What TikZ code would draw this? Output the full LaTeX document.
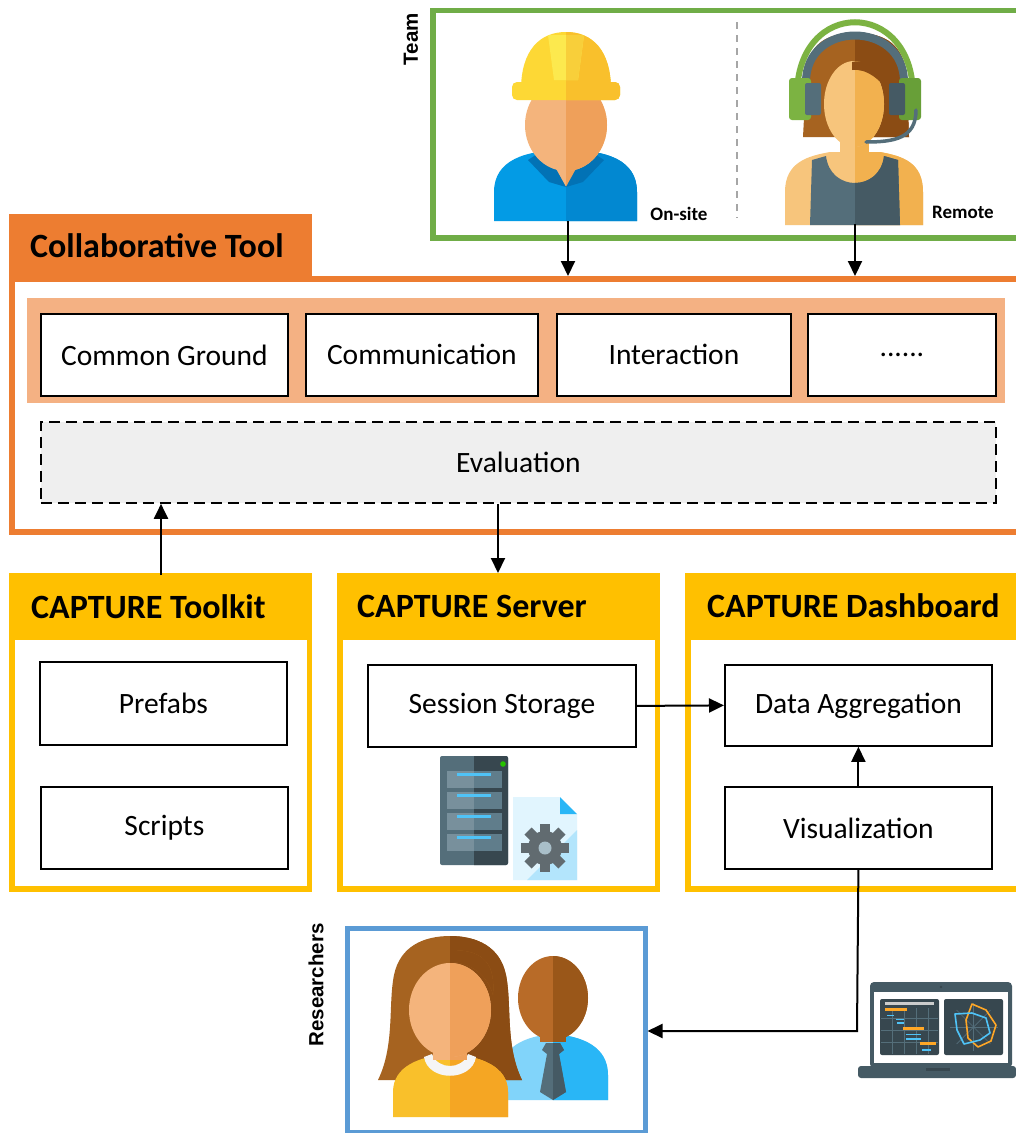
\documentclass[tikz,border=0pt]{standalone}
\usepackage{fontspec}
\setmainfont{Carlito}
\newfontfamily\arialfont{Liberation Sans}
\usetikzlibrary{arrows.meta}

\definecolor{ctorange}{HTML}{ED7D31}
\definecolor{ctlight}{HTML}{F4B183}
\definecolor{capgold}{HTML}{FFC000}
\definecolor{teamgreen}{HTML}{70AD47}
\definecolor{resblue}{HTML}{5B9BD5}
\definecolor{evalgray}{HTML}{EFEFEF}
% icon palette
\definecolor{skinL}{HTML}{F4B47C}
\definecolor{skinR}{HTML}{EFA05A}
\definecolor{skinYL}{HTML}{F7C57C}
\definecolor{skinYR}{HTML}{F2B14F}
\definecolor{hatL}{HTML}{FDD835}
\definecolor{hatR}{HTML}{F9C02C}
\definecolor{hatRidgeL}{HTML}{FCE94E}
\definecolor{hatRidgeR}{HTML}{F8CF3A}
\definecolor{shirtL}{HTML}{039BE5}
\definecolor{shirtR}{HTML}{0288D1}
\definecolor{collar}{HTML}{0272B5}
\definecolor{hairL}{HTML}{A66320}
\definecolor{hairR}{HTML}{8B4C14}
\definecolor{slateL}{HTML}{546E7A}
\definecolor{slateR}{HTML}{455A64}
\definecolor{slateD}{HTML}{37474F}
\definecolor{headgreen}{HTML}{7CB342}
\definecolor{headgreenD}{HTML}{689F38}
\definecolor{manL}{HTML}{B86B28}
\definecolor{manR}{HTML}{9A5719}
\definecolor{lblueL}{HTML}{81D4FA}
\definecolor{lblueR}{HTML}{29B6F6}
\definecolor{topL}{HTML}{F9C02B}
\definecolor{topR}{HTML}{F5A623}
\definecolor{slotL}{HTML}{78909C}
\definecolor{slotR}{HTML}{607D8B}
\definecolor{ledblue}{HTML}{4FC3F7}
\definecolor{docL}{HTML}{E1F5FE}
\definecolor{docR}{HTML}{B3E5FC}
\definecolor{gearc}{HTML}{616B70}
\definecolor{barorange}{HTML}{FFA726}

% fill a path in two tones, split vertically at x = #1
\newcommand\twotonefill[4]{%
  \fill[#2] #4;
  \begin{scope}
    \clip (#1,-20) rectangle (1100,1200);
    \fill[#3] #4;
  \end{scope}}

\begin{document}
\begin{tikzpicture}[x=1pt,y=-1pt,
  cbox/.style={draw=black, line width=1.8, fill=white, inner sep=0,
    anchor=north west, font=\fontsize{29.5}{32}\selectfont},
  ttl/.style={inner sep=0, anchor=west, font=\bfseries\fontsize{34}{36}\selectfont},
  sidelbl/.style={inner sep=0, rotate=90, font=\arialfont\bfseries\fontsize{20.5}{22}\selectfont},
  rolelbl/.style={inner sep=0, font=\bfseries\fontsize{19}{20}\selectfont},
  arr/.style={line width=2, -{Triangle[length=15pt,width=14pt]}}]

\useasboundingbox (0,0) rectangle (1016,1133);
\clip (0,0) rectangle (1016,1133);
\fill[white] (0,0) rectangle (1016,1133);

% ---------------- Team ----------------
\draw[teamgreen, line width=5.5] (1030,10.5) -- (433,10.5) -- (433,238) -- (1030,238);
\draw[gray!70, line width=1.5, dash pattern=on 7pt off 6pt] (737,22) -- (737,218);
\node[sidelbl] (teamlbl) at (411,39) {Team};

% on-site worker
\twotonefill{566}{shirtL}{shirtR}{(494,221) -- (494,192) .. controls (494,160) and (525,150) .. (566,150) .. controls (607,150) and (637,160) .. (637,192) -- (637,221) -- cycle}
\twotonefill{566}{skinL}{skinR}{(545,140) -- (587,140) -- (587,160) -- (566,187) -- (545,160) -- cycle}
\fill[collar] (528,160) -- (545,149) -- (566,187) -- (549,182) -- cycle;
\fill[collar] (604,160) -- (587,149) -- (566,187) -- (583,182) -- cycle;
\twotonefill{566}{skinL}{skinR}{(566,125) ellipse (41 and 46)}
\twotonefill{566}{hatL}{hatR}{(521,90) .. controls (521,50) and (540,32) .. (566,32) .. controls (592,32) and (611,50) .. (611,90) -- cycle}
\twotonefill{566}{hatL}{hatR}{[rounded corners=5] (512,82) rectangle (620,100)}
\twotonefill{566}{hatRidgeL}{hatRidgeR}{(548,35) -- (584,35) -- (578,80) -- (554,80) -- cycle}
\node[rolelbl] (onsitelbl) at (679,214) {On-site};
\coordinate (onsite) at (568,221);

% remote worker with headset
\twotonefill{855}{hairL}{hairR}{(803,137) -- (806,80) .. controls (806,42) and (828,33) .. (856,33) .. controls (886,33) and (905,45) .. (907,80) -- (909,137) -- cycle}
\twotonefill{855}{skinYL}{skinYR}{(785,225) -- (785,192) .. controls (785,162) and (808,156) .. (830,152) -- (880,152) .. controls (902,156) and (923,162) .. (923,192) -- (923,225) -- cycle}
\twotonefill{855}{skinYL}{skinYR}{(840,135) rectangle (869,165)}
\twotonefill{855}{slateL}{slateR}{(810,225) -- (812,160) -- (826,156) .. controls (830,192) and (880,192) .. (884,156) -- (898,160) -- (900,225) -- cycle}
\twotonefill{855}{skinYL}{skinYR}{(854,104) ellipse (30 and 43)}
\fill[hairR] (852,62) .. controls (870,58) and (885,70) .. (890,95) .. controls (882,80) and (866,68) .. (852,70) -- cycle;
\draw[slateL, line width=8] (806,82) .. controls (806,20) and (904,20) .. (904,82);
\draw[headgreen, line width=6] (797,95) .. controls (797,-2) and (913,-2) .. (913,95);
\fill[headgreen, rounded corners=3] (789,78) rectangle (811,120);
\fill[slateL, rounded corners=2] (805,83) rectangle (821,115);
\fill[headgreenD, rounded corners=3] (899,78) rectangle (921,120);
\fill[slateR, rounded corners=2] (889,83) rectangle (905,115);
\draw[slateL, line width=3.5, line cap=round] (916,110) .. controls (916,138) and (895,142) .. (866,142);
\coordinate (remote) at (855,224);
\node[rolelbl] (remotelbl) at (963,212) {Remote};

% ---------------- Collaborative Tool ----------------
\fill[ctorange] (9,214) rectangle (312,281);
\draw[ctorange, line width=6] (1030,278.5) -- (12,278.5) -- (12,532) -- (1030,532);
\node[ttl] (cttitle) at (30,246) {Collaborative Tool};
\fill[ctlight] (27,298) rectangle (1005,403);
\node[cbox, minimum width=247, minimum height=82] (common) at (40,313) {Common Ground};
\node[cbox, minimum width=232, minimum height=82] (comm) at (305,313) {Communication};
\node[cbox, minimum width=234, minimum height=82] (inter) at (556,313) {Interaction};
\node[cbox, minimum width=188, minimum height=82] (more) at (807,313) {......};
\node[cbox, fill=evalgray, dash pattern=on 11pt off 6pt, minimum width=955, minimum height=81] (eval) at (40,421) {Evaluation};

\coordinate (ctop1) at (568,276);
\coordinate (ctop2) at (855,276);
\draw[arr] (onsite) -- (ctop1);
\draw[arr] (remote) -- (ctop2);

% ---------------- CAPTURE Toolkit ----------------
\fill[capgold] (9,573) rectangle (312,640);
\draw[capgold, line width=5.5] (12,576) rectangle (309.5,889);
\node[ttl] (tktitle) at (31,607) {CAPTURE Toolkit};
\node[cbox, minimum width=247, minimum height=83] (prefabs) at (39,661) {Prefabs};
\node[cbox, minimum width=247, minimum height=82] (scripts) at (40,786) {Scripts};
\coordinate (tktop) at (161,575);
\draw[arr] (tktop) -- (tktop |- eval.south);

% ---------------- CAPTURE Server ----------------
\fill[capgold] (337,573) rectangle (660,640);
\draw[capgold, line width=5.5] (340,576) rectangle (657.5,889);
\node[ttl] (svtitle) at (357,606) {CAPTURE Server};
\node[cbox, minimum width=268, minimum height=82] (store) at (367,664) {Session Storage};
\coordinate (svtop) at (498,573);
\draw[arr] (eval.south -| svtop) -- (svtop);

% server rack
\twotonefill{474}{slateL}{slateD}{[rounded corners=2] (440,756) rectangle (508,865)}
\foreach \yy in {771,792,813,834}{
  \twotonefill{474}{slotL}{slotR}{(447,\yy) rectangle (502,\yy+17)}
  \fill[ledblue] (457,\yy+2) rectangle (491,\yy+4.5);
}
\fill[green!70!black!80!lime] (503,764) circle (2.8);
% config document with gear
\fill[docL] (513,797) -- (560,797) -- (577,814) -- (577,880) -- (513,880) -- cycle;
\fill[docR] (577,830) -- (577,880) -- (527,880) -- cycle;
\fill[lblueR] (560,797) -- (577,814) -- (560,814) -- cycle;
\foreach \a in {0,45,...,315}{
  \fill[gearc, rotate around={\a:(545,848)}] (540,824) rectangle (550,834);
}
\fill[gearc] (545,848) circle (17);
\fill[docL!60!slateL] (545,848) circle (6.5);

% ---------------- CAPTURE Dashboard ----------------
\fill[capgold] (685,573) rectangle (1030,640);
\draw[capgold, line width=5.5] (1030,576) -- (688,576) -- (688,889) -- (1030,889);
\node[ttl] (dbtitle) at (707,606) {CAPTURE Dashboard};
\node[cbox, minimum width=267, minimum height=81] (agg) at (724,664) {Data Aggregation};
\node[cbox, minimum width=267, minimum height=82] (vis) at (724,786) {Visualization};
\draw[arr] (store.east) -- (agg.west);
\draw[arr] (vis.north) -- (agg.south);

% ---------------- Researchers ----------------
\node[draw=resblue, line width=5, minimum width=298, minimum height=204, inner sep=0, anchor=north west] (res) at (344.5,925.5) {};
\node[sidelbl] (reslbl) at (316,985) {Researchers};
% man behind
\twotonefill{553}{lblueL}{lblueR}{(500,1100) -- (500,1075) .. controls (500,1047) and (525,1036) .. (553,1034) .. controls (583,1036) and (608,1047) .. (608,1075) -- (608,1100) -- cycle}
\twotonefill{553}{manL}{manR}{(553,998) ellipse (35 and 42)}
\twotonefill{553}{manL}{manR}{(540,1030) rectangle (566,1042)}
\twotonefill{553}{slateL}{slateR}{(546,1043) -- (560,1043) -- (564,1050) -- (559,1054) -- (566,1092) -- (553,1100) -- (540,1092) -- (547,1054) -- (542,1050) -- cycle}
% woman in front
\twotonefill{450}{hairL}{hairR}{(378,1080) .. controls (395,1045) and (388,1005) .. (394,975) .. controls (400,946) and (424,936) .. (450,936) .. controls (476,936) and (500,946) .. (506,975) .. controls (512,1005) and (505,1045) .. (522,1080) -- cycle}
\twotonefill{450}{topL}{topR}{(393,1117) -- (393,1092) .. controls (393,1066) and (420,1056) .. (450,1054) .. controls (480,1056) and (508,1066) .. (508,1092) -- (508,1117) -- cycle}
\fill[white!92!gray] (424,1057) .. controls (428,1082) and (472,1082) .. (476,1057) -- (468,1054) .. controls (462,1070) and (438,1070) .. (432,1054) -- cycle;
\twotonefill{450}{skinL}{skinR}{(433,1030) rectangle (467,1060)}
\twotonefill{450}{skinL}{skinR}{(450,1010) ellipse (41 and 47)}
\twotonefill{450}{hairL}{hairR}{(408,995) .. controls (405,955) and (425,950) .. (450,950) .. controls (478,950) and (496,958) .. (493,995) .. controls (488,975) and (470,962) .. (450,962) .. controls (430,962) and (412,975) .. (408,995) -- cycle}

% ---------------- laptop ----------------
\fill[slateR, rounded corners=4] (870,982) rectangle (1012,1068);
\fill[white] (874,992) rectangle (1008,1063);
\fill[slateD] (941,987) circle (1.4);
\fill[slateD, rounded corners=2] (880,999) rectangle (939,1055);
\fill[slateD, rounded corners=2] (944,999) rectangle (1003,1055);
\foreach \gx in {892,904,916,928}{\draw[slateL, line width=0.8] (\gx,1008) -- (\gx,1054);}
\foreach \gy in {1018,1030,1042}{\draw[slateL, line width=0.8] (881,\gy) -- (938,\gy);}
\fill[gray!40] (885,1002) rectangle (934,1005);
\fill[barorange] (885,1008) rectangle (907,1011);
\draw[ledblue, line width=1.3] (887,1015.5) -- (894,1015.5) (896,1019.5) -- (904,1019.5) (897,1023) -- (904,1023);
\fill[barorange] (903,1027) rectangle (924,1030);
\draw[ledblue, line width=1.3] (906,1034.5) -- (921,1034.5) (906,1039) -- (921,1039);
\fill[barorange] (920,1042) rectangle (936,1045);
\draw[ledblue, line width=1.3] (922,1050) -- (931,1050);
\foreach \ra in {0,45,...,315}{\draw[slateL, line width=0.7] (973.5,1027) -- ++(\ra:24);}
\draw[barorange, line width=1.6, line join=round] (972,1004) -- (986,1010) -- (996,1025) -- (991,1041) -- (978,1047) -- (968,1038) -- (966,1020) -- cycle;
\draw[ledblue, line width=1.6, line join=round] (955,1014) -- (972,1013) -- (986,1018) -- (990,1033) -- (980,1040) -- (964,1044) -- (957,1030) -- cycle;
\fill[slateR, rounded corners=3] (858,1066) rectangle (1016,1078);
\fill[slateD] (926,1068) rectangle (950,1071);
\coordinate (vistap) at (857,1031);

\draw[arr] (vis.south) -- (vistap) -- (vistap -| res.east);

\end{tikzpicture}
\end{document}
